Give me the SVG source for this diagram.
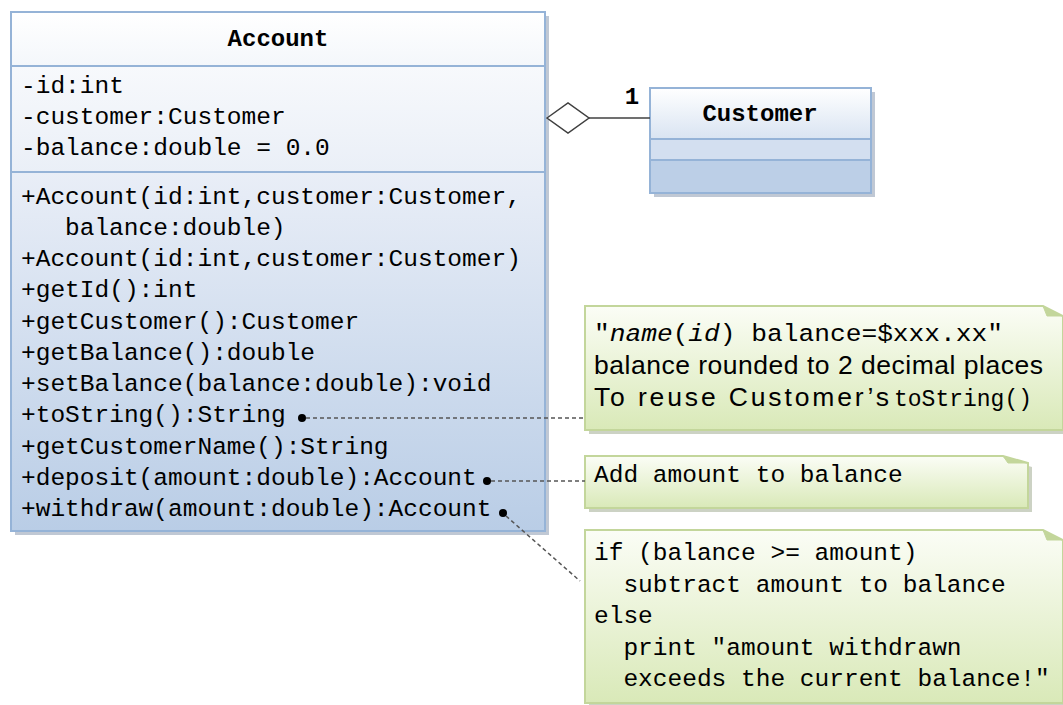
<svg xmlns="http://www.w3.org/2000/svg" width="1063" height="705" viewBox="0 0 1063 705">
<defs>
<linearGradient id="gHead" x1="0" y1="0" x2="0" y2="1"><stop offset="0" stop-color="#ffffff"/><stop offset="1" stop-color="#f4f7fb"/></linearGradient>
<linearGradient id="gAttr" x1="0" y1="0" x2="0" y2="1"><stop offset="0" stop-color="#f7f9fc"/><stop offset="1" stop-color="#eaeff7"/></linearGradient>
<linearGradient id="gMeth" x1="0" y1="0" x2="0" y2="1"><stop offset="0" stop-color="#e9eef7"/><stop offset="1" stop-color="#b9cde6"/></linearGradient>
<linearGradient id="gCHead" x1="0" y1="0" x2="0" y2="1"><stop offset="0" stop-color="#ffffff"/><stop offset="1" stop-color="#d9e4f2"/></linearGradient>
<linearGradient id="gNote" x1="0" y1="0" x2="0" y2="1"><stop offset="0" stop-color="#fbfdf6"/><stop offset="1" stop-color="#d9e9b8"/></linearGradient>
</defs>
<style>
.mono{font-family:"Liberation Mono","DejaVu Sans Mono",monospace;font-size:24.5px;fill:#000}
.bold{font-family:"Liberation Mono","DejaVu Sans Mono",monospace;font-size:24px;font-weight:bold;fill:#000}
.sans{font-family:"Liberation Sans",Arial,sans-serif;font-size:26.5px;fill:#000}
.cls{stroke:#95b3d7;stroke-width:2}
.shadow{fill:#8c9bb0;opacity:0.55}
.note{stroke:#c3d69b;stroke-width:2;fill:url(#gNote)}
.nshadow{fill:#9aa68a;opacity:0.5}
.dash{stroke:#555;stroke-width:1.5;stroke-dasharray:4 3;fill:none}
</style>

<g id="account">
<rect class="shadow" x="15" y="16" width="534" height="519"/>
<rect class="cls" x="11" y="12" width="534" height="54" fill="url(#gHead)"/>
<rect class="cls" x="11" y="66" width="534" height="106" fill="url(#gAttr)"/>
<rect class="cls" x="11" y="172" width="534" height="359" fill="url(#gMeth)"/>
<text class="bold" x="278" y="46" text-anchor="middle">Account</text>
<text class="mono" x="21" y="93">-id:int</text>
<text class="mono" x="21" y="124">-customer:Customer</text>
<text class="mono" x="21" y="155">-balance:double = 0.0</text>
<text class="mono" x="21" y="204">+Account(id:int,customer:Customer,</text>
<text class="mono" x="65" y="235">balance:double)</text>
<text class="mono" x="21" y="266">+Account(id:int,customer:Customer)</text>
<text class="mono" x="21" y="297">+getId():int</text>
<text class="mono" x="21" y="329">+getCustomer():Customer</text>
<text class="mono" x="21" y="360">+getBalance():double</text>
<text class="mono" x="21" y="391">+setBalance(balance:double):void</text>
<text class="mono" x="21" y="422">+toString():String</text>
<text class="mono" x="21" y="454">+getCustomerName():String</text>
<text class="mono" x="21" y="485">+deposit(amount:double):Account</text>
<text class="mono" x="21" y="516">+withdraw(amount:double):Account</text>
</g>

<g id="customer">
<rect class="shadow" x="654" y="92" width="221" height="105"/>
<rect class="cls" x="650" y="88" width="221" height="51" fill="url(#gCHead)"/>
<rect class="cls" x="650" y="139" width="221" height="21" fill="#d3dff0"/>
<rect class="cls" x="650" y="160" width="221" height="33" fill="#bccfe7"/>
<text class="bold" x="760" y="121" text-anchor="middle">Customer</text>
</g>

<g id="note-tostring">
<path class="nshadow" d="M589 310 H1047 L1067 320 V434 H589 Z"/>
<path class="note" d="M585 306 H1043 L1063 316 V430 H585 Z"/>
<path d="M1043 306 L1047 316 L1063 316" fill="#c3d69b" stroke="#c3d69b" stroke-width="1"/>
<text class="mono" x="594" y="341" textLength="409" lengthAdjust="spacingAndGlyphs">"<tspan font-style="italic">name</tspan>(<tspan font-style="italic">id</tspan>) balance=$xxx.xx"</text>
<text class="sans" x="594" y="374" textLength="449" lengthAdjust="spacing">balance rounded to 2 decimal places</text>
<text class="sans" x="594" y="406" textLength="295" lengthAdjust="spacing">To reuse Customer’s</text>
<text class="mono" x="894" y="406" textLength="138" lengthAdjust="spacingAndGlyphs">toString()</text>
</g>

<g id="note-deposit">
<path class="nshadow" d="M589 460 H1007 L1032 467 V512 H589 Z"/>
<path class="note" d="M585 456 H1003 L1028 463 V508 H585 Z"/>
<path d="M1003 456 L1008 463 L1028 463" fill="#c3d69b" stroke="#c3d69b" stroke-width="1"/>
<text class="mono" x="594" y="482">Add amount to balance</text>
</g>

<g id="note-withdraw">
<path class="nshadow" d="M589 534 H1047 L1067 544 V707 H589 Z"/>
<path class="note" d="M585 530 H1043 L1063 540 V703 H585 Z"/>
<path d="M1043 530 L1047 540 L1063 540" fill="#c3d69b" stroke="#c3d69b" stroke-width="1"/>
<text class="mono" x="594" y="560">if (balance &gt;= amount)</text>
<text class="mono" x="594" y="592" xml:space="preserve">  subtract amount to balance</text>
<text class="mono" x="594" y="623">else</text>
<text class="mono" x="594" y="655" xml:space="preserve">  print "amount withdrawn</text>
<text class="mono" x="594" y="686" xml:space="preserve">  exceeds the current balance!"</text>
</g>

<g id="connectors">
<path d="M547 118 L568 103 L589 118 L568 133 Z" fill="#ffffff" stroke="#404040" stroke-width="1.5"/>
<line x1="589" y1="118" x2="650" y2="118" stroke="#404040" stroke-width="1.5"/>
<text class="bold" x="632" y="104" text-anchor="middle">1</text>
<circle cx="302" cy="418" r="4" fill="#000"/>
<line class="dash" x1="306" y1="418" x2="585" y2="418"/>
<circle cx="487" cy="481" r="4" fill="#000"/>
<line class="dash" x1="491" y1="481" x2="585" y2="481"/>
<circle cx="503" cy="513" r="4" fill="#000"/>
<line class="dash" x1="506" y1="516" x2="580" y2="581"/>
</g>
</svg>
